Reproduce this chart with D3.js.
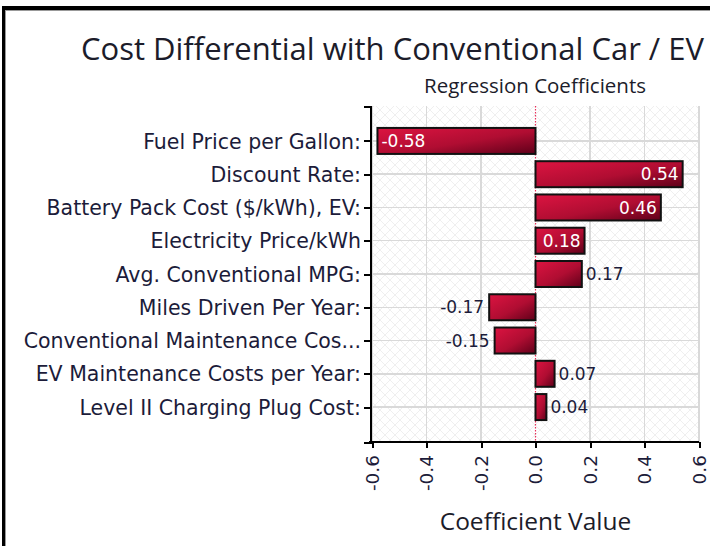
<!DOCTYPE html>
<meta charset="utf-8">
<style>
body { margin: 0; background: #fff; }
.axis path, .axis line { fill: none; stroke: #000; stroke-width: 2; shape-rendering: crispEdges; }
.grid line { stroke: #d9d9d9; stroke-width: 1.5; shape-rendering: crispEdges; }
</style>
<body>
<script src="https://d3js.org/d3.v7.min.js"></script>
<script>

var categories = [
  "Fuel Price per Gallon:",
  "Discount Rate:",
  "Battery Pack Cost ($/kWh), EV:",
  "Electricity Price/kWh",
  "Avg. Conventional MPG:",
  "Miles Driven Per Year:",
  "Conventional Maintenance Cos...",
  "EV Maintenance Costs per Year:",
  "Level II Charging Plug Cost:"
];
var coefficients = [-0.58, 0.54, 0.46, 0.18, 0.17, -0.17, -0.15, 0.07, 0.04];
var xTicks = [-0.6, -0.4, -0.2, 0.0, 0.2, 0.4, 0.6];

var W = 710, H = 546;
var plot = {left: 372, right: 699, top: 106, bottom: 442};
var labelFont = "'DejaVu Sans', Verdana, sans-serif";
var titleFont = "'Open Sans', sans-serif";
var ink = "#1c1c3a";

var svg = d3.select("body").append("svg")
    .attr("width", W)
    .attr("height", H);

var defs = svg.append("defs");

// faint crosshatch behind the plot
var pat = defs.append("pattern")
    .attr("id", "hatch")
    .attr("width", 10).attr("height", 10)
    .attr("patternUnits", "userSpaceOnUse");
pat.append("path").attr("d", "M0,0L10,10M10,0L0,10")
    .attr("stroke", "#efefef").attr("stroke-width", 1).attr("fill", "none");

var grad = defs.append("linearGradient")
    .attr("id", "barfill")
    .attr("x1", 0).attr("y1", 0).attr("x2", 1).attr("y2", 1);
grad.append("stop").attr("offset", "0%").attr("stop-color", "#dc1441");
grad.append("stop").attr("offset", "55%").attr("stop-color", "#b00d32");
grad.append("stop").attr("offset", "100%").attr("stop-color", "#5e0019");

// frame
svg.append("rect").attr("x", 0).attr("y", 0).attr("width", W).attr("height", H).attr("fill", "#fff");
svg.append("rect").attr("x", 2).attr("y", 6).attr("width", W).attr("height", 4).attr("fill", "#000");
svg.append("rect").attr("x", 2).attr("y", 6).attr("width", 3).attr("height", H).attr("fill", "#000");
svg.append("line").attr("x1", 6).attr("x2", W).attr("y1", 10.5).attr("y2", 10.5).attr("stroke", "#999");
svg.append("line").attr("x1", 5.5).attr("x2", 5.5).attr("y1", 10).attr("y2", H).attr("stroke", "#999");

var x = d3.scaleLinear()
    .domain([-0.6, 0.6])
    .range([plot.left, plot.right]);

var y = d3.scalePoint()
    .domain(categories)
    .range([plot.top, plot.bottom])
    .padding(1.05);

var barH = 26;

svg.append("rect")
    .attr("x", plot.left).attr("y", plot.top)
    .attr("width", plot.right - plot.left).attr("height", plot.bottom - plot.top)
    .attr("fill", "url(#hatch)");

var grid = svg.append("g").attr("class", "grid");
grid.selectAll(".vx")
    .data(xTicks.filter(function(d) { return d !== 0; }))
  .enter().append("line")
    .attr("x1", function(d) { return x(d); })
    .attr("x2", function(d) { return x(d); })
    .attr("y1", plot.top).attr("y2", plot.bottom);
grid.selectAll(".hy")
    .data(categories)
  .enter().append("line")
    .attr("x1", plot.left).attr("x2", plot.right)
    .attr("y1", function(d) { return y(d); })
    .attr("y2", function(d) { return y(d); });

// zero reference line
svg.append("line")
    .attr("x1", x(0)).attr("x2", x(0))
    .attr("y1", plot.top).attr("y2", plot.bottom)
    .attr("stroke", "#e8305a")
    .attr("stroke-width", 1.2)
    .attr("stroke-dasharray", "1.5,1.5");

// bars
svg.selectAll(".bar")
    .data(coefficients)
  .enter().append("rect")
    .attr("class", "bar")
    .attr("x", function(d) { return x(Math.min(0, d)); })
    .attr("y", function(d, i) { return y(categories[i]) - barH / 2; })
    .attr("width", function(d) { return Math.abs(x(d) - x(0)); })
    .attr("height", barH)
    .attr("fill", "url(#barfill)")
    .attr("stroke", "#111")
    .attr("stroke-width", 2);

// value labels
function inside(d) { return Math.abs(d) > 0.175; }
svg.selectAll(".val")
    .data(coefficients)
  .enter().append("text")
    .attr("class", "val")
    .attr("x", function(d) {
      if (inside(d)) return d < 0 ? x(d) + 4 : x(d) - 4;
      return d < 0 ? x(d) - 5 : x(d) + 4;
    })
    .attr("y", function(d, i) { return y(categories[i]); })
    .attr("dy", "0.36em")
    .attr("text-anchor", function(d) {
      if (inside(d)) return d < 0 ? "start" : "end";
      return d < 0 ? "end" : "start";
    })
    .attr("fill", function(d) { return inside(d) ? "#fff" : ink; })
    .style("font-family", labelFont)
    .style("font-size", "17px")
    .text(function(d) { return d.toFixed(2); });

// axes
var yAxis = d3.axisLeft(y).tickSize(6).tickSizeOuter(6);
var gy = svg.append("g")
    .attr("class", "axis")
    .attr("transform", "translate(" + (plot.left - 2) + ",0)")
    .call(yAxis);
gy.selectAll("text")
    .attr("x", -9)
    .attr("dy", "0.35em")
    .attr("fill", ink)
    .style("font-family", labelFont)
    .style("font-size", "20.5px");

var xAxis = d3.axisBottom(x)
    .tickValues(xTicks)
    .tickSize(6)
    .tickSizeOuter(0)
    .tickFormat(function(d) { return d.toFixed(1); });
var gx = svg.append("g")
    .attr("class", "axis")
    .attr("transform", "translate(0," + plot.bottom + ")")
    .call(xAxis);
gx.selectAll("text")
    .attr("transform", "rotate(-90)")
    .attr("x", -13)
    .attr("y", 0)
    .attr("dy", "0.34em")
    .attr("text-anchor", "end")
    .attr("fill", ink)
    .style("font-family", labelFont)
    .style("font-size", "18.5px");
gx.select(".domain").attr("d", "M" + (plot.left - 3) + ",0H" + plot.right);

// titles
svg.append("text")
    .attr("x", 704).attr("y", 60)
    .attr("text-anchor", "end")
    .attr("fill", "#1c1c2a")
    .style("font-family", titleFont)
    .style("font-size", "31px")
    .text("Cost Differential with Conventional Car / EV");

svg.append("text")
    .attr("x", 535).attr("y", 93)
    .attr("text-anchor", "middle")
    .attr("fill", "#1c1c2a")
    .style("font-family", titleFont)
    .style("font-size", "20.5px")
    .text("Regression Coefficients");

svg.append("text")
    .attr("x", x(0)).attr("y", 530)
    .attr("text-anchor", "middle")
    .attr("fill", "#1c1c2a")
    .style("font-family", titleFont)
    .style("font-size", "24.5px")
    .text("Coefficient Value");

</script>
